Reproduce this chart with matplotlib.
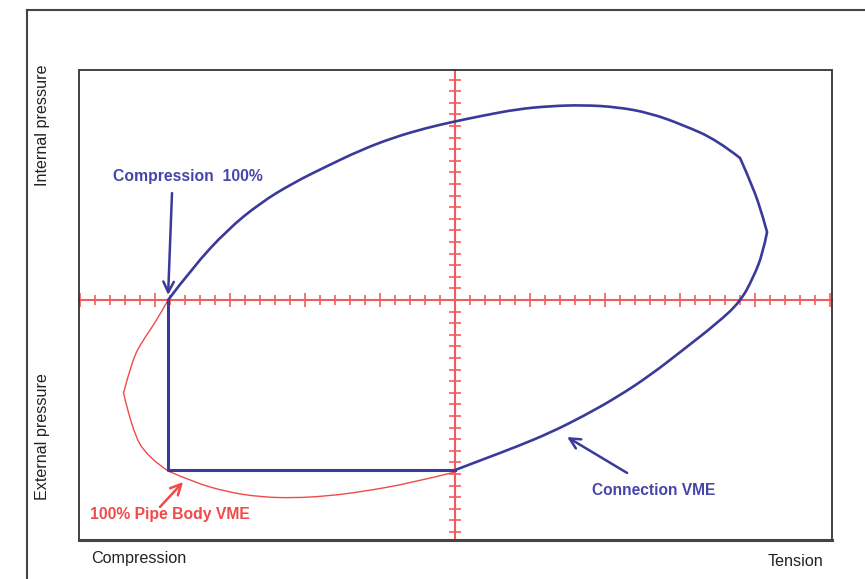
import numpy as np
import matplotlib
matplotlib.use("Agg")
import matplotlib.pyplot as plt
from matplotlib.lines import Line2D
from matplotlib.patches import Rectangle, PathPatch
from matplotlib.path import Path
from matplotlib.ticker import MultipleLocator

plt.rcParams["font.family"] = ["Liberation Sans", "DejaVu Sans"]

# ---------------------------------------------------------------------------
# Data (tick units: 1 unit = one minor tick on each red axis)
# ---------------------------------------------------------------------------
# Connection VME envelope (compression point -> over the top -> back to P axis)
conn_x = [-19.13, -17.47, -15.2, -13.0, -10.8, -8.53, -6.33, -4.13, -1.87, 0.0,
          1.87, 4.13, 6.33, 8.53, 10.8, 13.0, 15.2, 17.47, 19.0, 19.87, 20.53,
          20.8, 20.53, 19.87, 19.0, 17.47, 15.2, 13.0, 10.8, 8.53, 6.33, 4.13,
          1.87, 0.0]
conn_y = [0.0, 2.84, 6.03, 8.36, 10.09, 11.55, 12.9, 14.0, 14.85, 15.4,
          15.9, 16.45, 16.72, 16.81, 16.64, 16.12, 15.09, 13.79, 12.24, 9.74,
          7.16, 5.86, 4.05, 1.90, -0.17, -2.0, -4.3, -6.5, -8.38, -10.03,
          -11.45, -12.63, -13.74, -14.66]
conn_corners = [18, 21]          # visible kinks on the tension side

# Connection limits in compression / external pressure (rectangle)
rect_x = [-19.13, -19.13, 0.0]
rect_y = [0.0, -14.66, -14.66]

# 100% pipe body VME (lower-left part)
pipe_x = [-19.13, -19.87, -20.8, -21.53, -22.1, -21.53, -20.53, -19.13,
          -17.47, -15.2, -13.0, -10.8, -8.53, -6.33, -3.0, 0.0]
pipe_y = [0.0, -1.72, -3.45, -5.17, -8.02, -11.2, -13.53, -14.74,
          -15.69, -16.55, -16.98, -17.07, -16.9, -16.55, -15.8, -14.83]
pipe_corners = [4, 7]

BLUE = "#3a3a9a"
BLUE_TXT = "#4646aa"
RED = "#f04a4a"
RED_AX = "#f25c5c"


def smooth_path(xs, ys, corners=()):
    """Quadratic-Bezier path through the read points, sharp at `corners`."""
    pts = np.column_stack([xs, ys])
    cuts = [0] + list(corners) + [len(pts) - 1]
    verts, codes = [pts[0]], [Path.MOVETO]
    for a, b in zip(cuts[:-1], cuts[1:]):
        seg = pts[a:b + 1]
        if len(seg) == 2:
            verts.append(seg[1])
            codes.append(Path.LINETO)
            continue
        for i in range(1, len(seg) - 1):
            nxt = (seg[i] + seg[i + 1]) / 2 if i < len(seg) - 2 else seg[i + 1]
            verts += [seg[i], nxt]
            codes += [Path.CURVE3, Path.CURVE3]
    return Path(verts, codes)


fig = plt.figure(figsize=(8.65, 5.79), dpi=100)
W, H = 865, 579
ax = fig.add_axes([79 / W, (H - 540) / H, (832 - 79) / W, (540 - 70) / H])
ax.set_xlim(-25.07, 25.13)
ax.set_ylim(-20.69, 19.83)

# red axes crossing at the origin
for side in ["top", "right"]:
    ax.spines[side].set_visible(False)
ax.spines["left"].set_position(("data", 0))
ax.spines["bottom"].set_position(("data", 0))
for side in ["left", "bottom"]:
    ax.spines[side].set_color(RED_AX)
    ax.spines[side].set_linewidth(1.5)
    ax.spines[side].set_zorder(1)
ax.xaxis.set_major_locator(MultipleLocator(5))
ax.xaxis.set_minor_locator(MultipleLocator(1))
ax.yaxis.set_major_locator(MultipleLocator(1))
ax.tick_params(which="both", direction="inout", colors=RED_AX, width=1.2,
               labelbottom=False, labelleft=False)
ax.tick_params(axis="x", which="major", length=10)
ax.tick_params(axis="x", which="minor", length=6.5)
ax.tick_params(axis="y", which="major", length=8)

# box around plot area
ax.add_patch(Rectangle((0, 0), 1, 1, transform=ax.transAxes, fill=False,
                       edgecolor="#333333", lw=1.3, clip_on=False, zorder=5))
ax.plot([0, 1], [0, 0], transform=ax.transAxes, color="#444444", lw=2.2,
        clip_on=False, zorder=5)

ax.add_patch(PathPatch(smooth_path(pipe_x, pipe_y, pipe_corners), fill=False,
                       edgecolor=RED, lw=1.0, zorder=3))
ax.add_patch(PathPatch(smooth_path(conn_x, conn_y, conn_corners), fill=False,
                       edgecolor=BLUE, lw=1.9, zorder=4))
ax.plot(rect_x, rect_y, color=BLUE, lw=2.2, zorder=4)

# annotations
arrow_b = dict(arrowstyle="->", color=BLUE, lw=1.8, mutation_scale=19,
               shrinkA=0, shrinkB=0)
arrow_r = dict(arrowstyle="->", color=RED, lw=1.8, mutation_scale=19,
               shrinkA=0, shrinkB=0)
ax.annotate("", xy=(-19.13, 0.43), xytext=(-18.87, 9.22), arrowprops=arrow_b)
ax.annotate("", xy=(7.47, -11.81), xytext=(11.47, -14.91), arrowprops=arrow_b)
ax.annotate("", xy=(-18.13, -15.69), xytext=(-19.67, -17.84), arrowprops=arrow_r)

ax.text(-17.8, 10.69, "Compression  100%", color=BLUE_TXT, fontsize=11.3,
        fontweight="bold", ha="center", va="center")
ax.text(13.27, -16.38, "Connection VME", color=BLUE_TXT, fontsize=11.2,
        fontweight="bold", ha="center", va="center")
ax.text(-19.0, -18.53, "100% Pipe Body VME", color=RED, fontsize=11.3,
        fontweight="bold", ha="center", va="center")

# outer labels
lab = dict(color="#222222", fontsize=11.6)
fig.text(42 / W, 1 - 125 / H, "Internal pressure", rotation=90,
         ha="center", va="center", **lab)
fig.text(42 / W, 1 - 437 / H, "External pressure", rotation=90,
         ha="center", va="center", **lab)
fig.text(139 / W, 1 - 559 / H, "Compression", ha="center", va="center", **lab)
fig.text(795 / W, 1 - 561 / H, "Tension", ha="center", va="center", **lab)

# outer frame (only left and top edges visible in the crop)
fig.add_artist(Line2D([27 / W, 27 / W], [0, 1 - 10 / H], color="#444444",
                      lw=1.5, transform=fig.transFigure))
fig.add_artist(Line2D([27 / W, 1], [1 - 10 / H, 1 - 10 / H], color="#444444",
                      lw=1.5, transform=fig.transFigure))

fig.savefig("out.png", dpi=100)
